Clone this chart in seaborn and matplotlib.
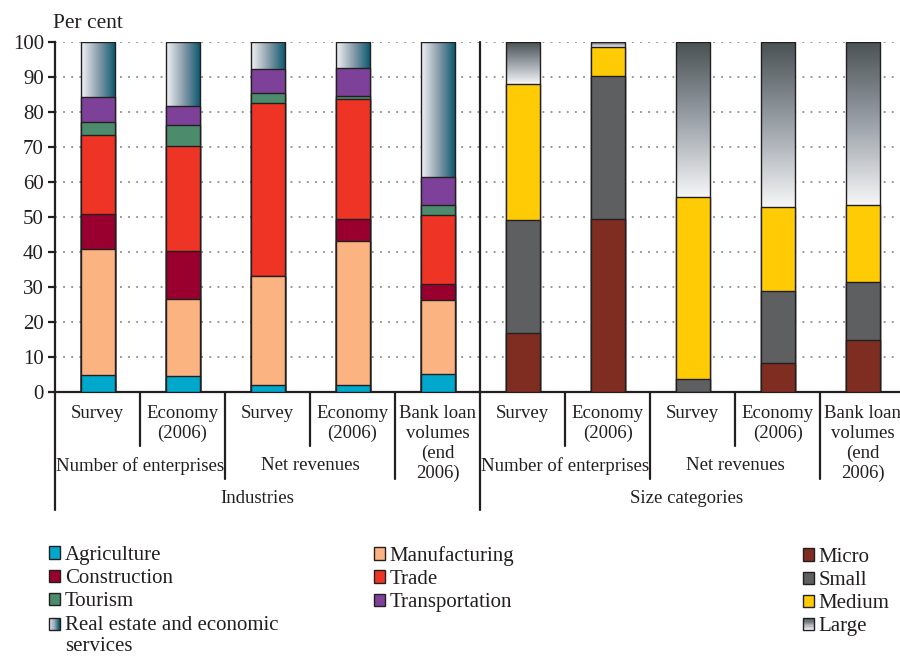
import numpy as np
import pandas as pd
import matplotlib
matplotlib.use("Agg")
import matplotlib.pyplot as plt
from matplotlib.colors import LinearSegmentedColormap
from matplotlib.patches import Rectangle, Patch
from matplotlib.legend_handler import HandlerBase
import seaborn as sns

sns.set_theme(style="white")
plt.rcParams["font.family"] = ["Liberation Serif", "DejaVu Serif"]

##Data (per cent)
bar_labels = ["Survey", "Economy\n(2006)", "Survey", "Economy\n(2006)",
              "Bank loan\nvolumes\n(end\n2006)"]
group_labels = ["Number of enterprises", "Net revenues"]
panel_labels = ["Industries", "Size categories"]

ind_pos = [0, 1, 2, 3, 4]
size_pos = [5, 6, 7, 8, 9]

sectors = ["Agriculture", "Manufacturing", "Construction", "Trade",
           "Tourism", "Transportation", "Real estate and economic\nservices"]
agriculture = [4.8, 4.5, 1.9, 1.9, 5.1]
manufacturing = [36.2, 22.0, 31.2, 41.2, 21.1]
construction = [9.9, 13.9, 0.0, 6.2, 4.8]
trade = [22.4, 29.8, 49.6, 34.5, 19.7]
tourism = [3.8, 6.0, 2.6, 0.8, 2.8]
transportation = [7.2, 5.6, 7.1, 7.9, 7.8]
real_estate = [15.7, 18.2, 7.6, 7.5, 38.7]

sizes = ["Micro", "Small", "Medium", "Large"]
micro = [17.0, 49.4, 0.0, 8.2, 15.0]
small = [32.2, 40.8, 3.6, 20.8, 16.4]
medium = [38.8, 8.3, 52.2, 24.0, 22.0]
large = [12.0, 1.5, 44.2, 47.0, 46.6]

##colours
edge = "#231f20"
sector_colors = ["#00a9cc", "#fbb481", "#990030", "#ee3424", "#4c8c6c", "#7d4199", None]
size_colors = ["#7f2d20", "#5e5f61", "#ffcb05", None]
re_cmap = LinearSegmentedColormap.from_list("re", ["#f2f4f6", "#8a9dab", "#06566e"])
large_cmap = LinearSegmentedColormap.from_list("lg", ["#f6f6f7", "#9aa1a8", "#4a5254"])


def stacked(ax, pos, series, colors, cmap, vertical, zbase):
    cum = np.cumsum(np.array(series), axis=0)
    n = len(series)
    for k in range(n - 1, -1, -1):
        n_before = len(ax.patches)
        z = zbase + (n - 1 - k)
        sns.barplot(x=pos, y=cum[k], native_scale=True, color=colors[k] or "white",
                    saturation=1, width=0.4, edgecolor=edge, linewidth=1.0,
                    errorbar=None, ax=ax, zorder=z)
        if colors[k] is None:
            ##gradient fill, clipped to the bar
            lower = cum[k - 1] if k > 0 else np.zeros(len(pos))
            for p, lo in zip(ax.patches[n_before:], lower):
                p.set_facecolor("none")
                x0, w, top = p.get_x(), p.get_width(), p.get_height()
                if vertical:
                    grad = np.linspace(0, 1, 256).reshape(-1, 1)
                else:
                    grad = np.linspace(0, 1, 256).reshape(1, -1)
                im = ax.imshow(grad, extent=[x0, x0 + w, lo, top], origin="lower",
                               aspect="auto", cmap=cmap, zorder=z - 0.5)
                im.set_clip_path(p)


fig = plt.figure(figsize=(9, 6.57), dpi=100)
ax = fig.add_axes([55 / 900, 265 / 657, 845 / 900, 350 / 657])

stacked(ax, ind_pos, [agriculture, manufacturing, construction, trade, tourism,
                      transportation, real_estate], sector_colors, re_cmap, False, 2)
stacked(ax, size_pos, [micro, small, medium, large], size_colors, large_cmap, True, 2)

ax.set_xlim(-0.5, 9.44)
ax.set_ylim(0, 100)
ax.set_yticks(range(0, 101, 10))
ax.set_xticks([])
ax.set_xlabel("")
ax.set_ylabel("")
ax.set_axisbelow(True)
ax.yaxis.grid(True, linestyle=(0, (1, 3.5)), color="#8c8c8c", linewidth=1.3)
ax.xaxis.grid(False)
for s in ["top", "right"]:
    ax.spines[s].set_visible(False)
for s in ["left", "bottom"]:
    ax.spines[s].set_color(edge)
    ax.spines[s].set_linewidth(1.6)
ax.tick_params(axis="y", left=True, direction="out", length=5, width=1.6,
               color=edge, labelsize=15, pad=3, labelcolor=edge)

fig.text(53 / 900, 1 - 24 / 657, "Per cent", ha="left", va="center",
         fontsize=15.5, color=edge)


##multi level category axis
def yfrac(px):
    return (392 - px) / 350


xt = ax.get_xaxis_transform()
for i, lab in enumerate(bar_labels * 2):
    ax.text(i, yfrac(405), lab, transform=xt, ha="center", va="top",
            fontsize=13.5, linespacing=1.2, color=edge)
for off in [0, 5]:
    for j, lab in enumerate(group_labels):
        ax.text(0.5 + 2 * j + off, yfrac(457), lab, transform=xt, ha="center",
                va="top", fontsize=13.5, color=edge)
for x, lab in zip([1.88, 6.93], panel_labels):
    ax.text(x, yfrac(490), lab, transform=xt, ha="center", va="top",
            fontsize=13.5, color=edge)

sep_short, sep_mid, sep_long = yfrac(446), yfrac(479), yfrac(510)
for x in [0.5, 2.5, 5.5, 7.5]:
    ax.plot([x, x], [0, sep_short], transform=xt, clip_on=False, color=edge, lw=1.6)
for x in [1.5, 3.5, 6.5, 8.5]:
    ax.plot([x, x], [0, sep_mid], transform=xt, clip_on=False, color=edge, lw=1.6)
ax.plot([-0.5, -0.5], [0, sep_long], transform=xt, clip_on=False, color=edge, lw=1.6)
ax.plot([4.5, 4.5], [1, sep_long], transform=xt, clip_on=False, color=edge, lw=1.6,
        zorder=20)


##legends
class HandlerGradient(HandlerBase):
    def __init__(self, cmap, vertical, shift=0.0):
        super().__init__()
        self.cmap = cmap
        self.vertical = vertical
        self.shift = shift

    def create_artists(self, legend, orig_handle, xdescent, ydescent, width,
                       height, fontsize, trans):
        arts = []
        n = 10
        y0 = -ydescent + self.shift * fontsize
        for i in range(n):
            c = self.cmap(i / (n - 1))
            if self.vertical:
                r = Rectangle((-xdescent, y0 + height * i / n), width,
                              height / n, facecolor=c, edgecolor="none", transform=trans)
            else:
                r = Rectangle((-xdescent + width * i / n, y0), width / n,
                              height, facecolor=c, edgecolor="none", transform=trans)
            arts.append(r)
        arts.append(Rectangle((-xdescent, y0), width, height, fill=False,
                              edgecolor=edge, lw=1.0, transform=trans))
        return arts


def make_handles(names, colors, cmap, vertical, shift):
    handles, hmap = [], {}
    for name, c in zip(names, colors):
        h = Patch(facecolor=c if c else "white", edgecolor=edge, linewidth=1.0, label=name)
        if c is None:
            hmap[h] = HandlerGradient(cmap, vertical, shift)
        handles.append(h)
    return handles, hmap


leg_kw = dict(frameon=False, fontsize=15, handlelength=0.55, handleheight=0.55,
              handletextpad=0.2, labelspacing=0.2, borderpad=0, borderaxespad=0,
              loc="upper left", labelcolor=edge)

sec_handles, sec_map = make_handles(sectors, sector_colors, re_cmap, False, 0.55)
order1 = [0, 2, 4, 6]
order2 = [1, 3, 5]
leg1 = fig.legend([sec_handles[i] for i in order1], [sectors[i] for i in order1],
                  handler_map=sec_map, bbox_to_anchor=(49 / 900, 1 - 546 / 657), **leg_kw)
leg2 = fig.legend([sec_handles[i] for i in order2], [sectors[i] for i in order2],
                  handler_map=sec_map, bbox_to_anchor=(374 / 900, 1 - 546 / 657), **leg_kw)
size_handles, size_map = make_handles(sizes, size_colors, large_cmap, True, 0.0)
leg3 = fig.legend(size_handles, sizes, handler_map=size_map,
                  bbox_to_anchor=(803 / 900, 1 - 548 / 657), **leg_kw)

fig.savefig("out.png", dpi=100)
